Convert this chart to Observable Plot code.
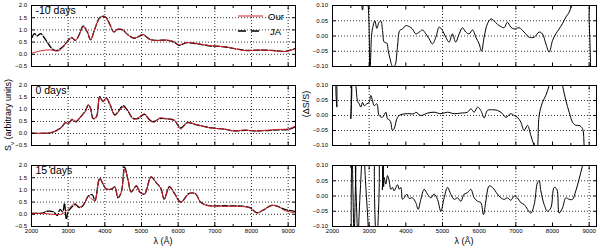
<!DOCTYPE html>
<html><head><meta charset="utf-8">
<script src="https://cdn.jsdelivr.net/npm/d3@7"></script>
<script src="https://cdn.jsdelivr.net/npm/@observablehq/plot@0.6"></script>
<style>
body{margin:0;background:#fff}
#c{position:relative;width:600px;height:249px;font-family:"Liberation Sans",sans-serif;overflow:hidden}
#c>svg,#c>div{position:absolute}
.lab{font-size:9px;color:#000;white-space:nowrap}
</style></head><body><div id="c"></div>
<script>
// ---------- data ----------
const xMajor = [2000,3000,4000,5000,6000,7000,8000,9000];
const xMinor = [2500,3500,4500,5500,6500,7500,8500];
const xGridLeft = [3000,4000,5000,6000,7000,8000,9000];
const xGridRight = [3000,5000,7000,9000];
const yTicksLeft = [-0.5,0,0.5,1,1.5,2];
const yGridLeft = [0,0.5,1,1.5];
const yTicksRight = [-0.1,-0.05,0,0.05,0.1];
const yGridRight = [-0.05,0,0.05];
const titles = ["-10 days","0 days","15 days"];
const seriesNames = ["Our","JA"];

// -10 days
const lamM10Our = [2000,2240,2510,2740,2870,2960,3100,3190,3280,3410,3520,3610,3730,3860,3970,4040,4140,4240,4360,4480,4630,4810,5040,5220,5400,5670,5890,6030,6210,6480,6840,7290,7830,8190,8550,8910,9200];
const fluxM10Our = [0.04,0.14,0.18,0.14,0.31,0.48,0.70,0.56,0.72,1.13,0.93,0.59,1.07,1.48,1.57,1.48,1.20,0.93,1.02,1.02,0.79,0.66,0.82,0.61,0.56,0.59,0.52,0.38,0.48,0.45,0.36,0.31,0.15,0.18,0.15,0.11,0.22];
const lamM10JA = [2020,2080,2150,2250,2330,2430,2520,2600,2700,2870,2960,3100,3190,3280,3410,3520,3610,3730,3860,3970,4040,4140,4240,4360,4480,4630,4810,5040,5220,5400,5670,5890,6030,6210,6480,6840,7290,7830,8190,8550,8910,9200];
const fluxM10JA = [0.70,0.85,0.75,0.85,0.72,0.50,0.30,0.18,0.16,0.33,0.50,0.68,0.57,0.74,1.15,0.92,0.60,1.05,1.50,1.55,1.50,1.22,0.92,1.03,1.00,0.80,0.66,0.80,0.62,0.57,0.58,0.50,0.37,0.47,0.44,0.35,0.30,0.16,0.17,0.16,0.12,0.24];
// 0 days
const lam0Our = [2000,2510,2690,2830,2920,3010,3100,3220,3320,3460,3550,3610,3680,3770,3860,3950,4040,4140,4270,4360,4500,4630,4770,4900,5080,5220,5350,5490,5670,5890,6070,6250,6480,6840,7290,7520,7830,8100,8370,8730,9000,9200];
const flux0Our = [0.01,0.03,0.12,0.26,0.47,0.40,0.61,0.47,0.68,0.89,1.21,1.03,0.61,0.68,1.51,1.31,1.49,1.24,0.75,0.89,1.10,0.96,0.61,0.65,0.82,0.54,0.47,0.65,0.61,0.57,0.19,0.47,0.38,0.24,0.18,0.10,0.15,0.10,0.13,0.17,0.19,0.31];
const lam0JA = [2000,2510,2690,2830,2920,3010,3100,3220,3320,3460,3550,3610,3680,3770,3860,3950,4040,4140,4270,4360,4500,4630,4770,4900,5080,5220,5350,5490,5670,5890,6070,6250,6480,6840,7290,7520,7830,8100,8370,8730,9000,9200];
const flux0JA = [0.01,0.03,0.13,0.28,0.44,0.43,0.57,0.50,0.66,0.92,1.18,1.05,0.63,0.70,1.54,1.33,1.47,1.20,0.78,0.90,1.16,0.93,0.63,0.62,0.80,0.57,0.50,0.62,0.62,0.55,0.23,0.45,0.37,0.25,0.17,0.11,0.13,0.11,0.12,0.15,0.17,0.28];
// 15 days
const lam15Our = [2000,2330,2650,2830,2960,3100,3190,3320,3460,3550,3640,3730,3860,3950,4030,4180,4270,4360,4450,4540,4630,4720,4860,4950,5080,5260,5400,5530,5620,5760,5890,6070,6300,6480,6610,6790,7290,7740,7960,8140,8320,8550,8730,8910,9200];
const flux15Our = [0.04,0.04,-0.01,0.01,0.15,0.36,0.45,0.29,0.49,0.73,0.63,0.56,1.45,1.25,1.04,1.04,1.11,0.70,0.90,1.86,1.45,0.90,1.18,0.90,0.84,1.52,1.32,1.04,0.63,1.11,0.90,0.49,0.84,0.84,0.49,0.36,0.33,0.32,0.26,0.05,0.18,0.36,0.32,0.15,0.06];
const lam15JA = [2000,2300,2400,2600,2700,2780,2850,2900,2950,3000,3100,3200,3300,3400,3460,3550,3660,3730,3860,3950,4030,4180,4270,4360,4450,4540,4630,4720,4860,4950,5080,5260,5400,5530,5620,5760,5890,6070,6300,6480,6610,6790,7290,7740,7960,8140,8320,8550,8730,8910,9200];
const flux15JA = [0.04,0.05,0.12,0.10,-0.05,0.20,0.10,0.45,-0.20,0.10,0.30,0.40,0.28,0.35,0.50,0.75,0.80,0.55,1.48,1.24,1.05,1.03,1.12,0.68,0.92,1.93,1.42,0.92,1.16,0.92,0.82,1.53,1.30,1.06,0.62,1.13,0.88,0.50,0.86,0.83,0.50,0.37,0.35,0.33,0.27,0.07,0.17,0.37,0.31,0.20,0.12];

// residuals
const lamResM10 = [2760,2820,2870,2950,3020,3064,3090,3155,3210,3270,3320,3365,3410,3480,3520,3570,3640,3700,3770,3835,3910,4000,4090,4180,4270,4360,4450,4545,4635,4725,4820,4910,5000,5090,5180,5270,5360,5455,5545,5635,5725,5820,5910,6000,6065,6135,6225,6320,6410,6500,6590,6680,6770,6865,6955,7090,7225,7365,7500,7635,7725,7820,7910,8000,8090,8180,8270,8365,8455,8520,8590,8950,9000,9050];
const resM10 = [0.15,0.085,0.14,0.12,-0.12,0.0,0.023,0.05,0.025,0.045,0.049,0.018,-0.02,-0.023,-0.048,-0.075,-0.10,-0.097,-0.037,0.018,0.023,0.034,0.031,0.023,0.007,0.012,0.02,0.007,-0.009,-0.026,-0.004,0.029,0.018,-0.004,-0.02,0.007,-0.02,0.007,0.027,0.013,0.007,0.02,-0.004,-0.026,-0.05,-0.004,0.04,0.056,0.049,0.038,0.031,0.027,0.045,0.029,0.023,0.027,0.013,-0.004,-0.004,0.013,0.007,-0.026,-0.053,-0.015,0.007,0.023,0.04,0.062,0.078,0.10,0.13,0.15,0.05,-0.15];
const lamRes0 = [2000,2100,2120,2140,2455,2500,2545,2560,2600,2636,2680,2727,2773,2818,2864,2936,3000,3045,3090,3136,3210,3273,3364,3455,3500,3573,3636,3682,3773,3864,4045,4227,4273,4409,4590,4773,4955,5136,5318,5500,5682,5773,5864,5955,6045,6136,6227,6364,6500,6636,6727,6864,6955,7045,7136,7227,7318,7409,7500,7573,7636,7727,7818,7909,8045,8180,8273,8364,8455,8545,8636,8727,8818,8864,8909];
const res0 = [0.15,0.12,0.028,0.13,0.15,-0.011,0.15,0.15,0.12,0.10,0.05,0.039,0.028,0.044,0.033,0.039,0.044,0.067,0.05,0.033,0.039,0.0,-0.006,0.011,-0.011,-0.017,-0.05,-0.044,-0.006,0.003,0.006,0.006,0.011,0.0,0.008,0.011,0.006,0.011,0.006,0.008,0.011,0.022,0.011,0.028,0.017,-0.008,0.017,0.019,0.017,0.006,-0.006,0.006,0.0,-0.006,-0.022,-0.05,-0.033,-0.067,-0.10,-0.12,0.0,0.044,0.067,0.10,0.15,0.15,0.10,0.05,0.011,-0.022,-0.033,-0.033,-0.044,-0.10,-0.15];
const lamRes15 = [2530,2545,2560,2580,2610,2630,2660,2675,2760,2775,2930,2945,3170,3195,3225,3340,3360,3375,3395,3410,3455,3500,3545,3590,3636,3682,3773,3818,3864,3909,3955,4027,4090,4182,4273,4336,4409,4500,4590,4682,4773,4864,4955,5045,5136,5227,5318,5409,5500,5590,5682,5773,5864,5955,6045,6118,6182,6273,6364,6500,6590,6682,6773,6864,6955,7045,7136,7227,7409,7500,7591,7636,7682,7773,7864,7955,8045,8118,8182,8273,8364,8455,8545,8636,8727,8818,8909];
const res15 = [0.2,-0.2,-0.2,0.2,0.2,-0.2,-0.2,0.2,0.2,-0.2,-0.2,0.2,0.2,-0.2,0.2,0.2,0.02,0.15,0.03,0.061,0.039,0.067,0.05,0.022,0.028,0.017,0.037,0.022,0.028,-0.011,-0.006,0.006,-0.008,-0.006,-0.022,-0.044,-0.011,0.022,0.006,-0.006,0.006,-0.011,-0.05,-0.006,0.028,0.006,-0.011,-0.006,-0.017,0.006,0.011,0.022,-0.006,-0.017,-0.022,-0.061,-0.017,0.033,0.028,0.006,-0.006,-0.011,-0.006,-0.014,0.0,-0.006,-0.022,-0.028,-0.056,-0.028,0.044,0.05,0.017,-0.028,-0.05,-0.039,0.028,0.022,-0.056,-0.039,-0.006,-0.011,-0.011,0.017,0.056,0.10,0.15];

// ---------- drawing ----------
const RED = "#d0202e";
const rows = (l, v) => l.map((x, i) => ({x, y: v[i]}));
const blank = () => "";
const gridStyle = {stroke: "#000", strokeOpacity: 1, strokeDasharray: "1,2", strokeWidth: 0.8};
const c = document.getElementById("c");

function panel(o) {
  const marks = [
    Plot.gridX(o.gridX, gridStyle),
    Plot.gridY(o.gridY, gridStyle),
    ...o.series.map(s => Plot.line(rows(s.l, s.v), {x: "x", y: "y", stroke: s.color, strokeWidth: s.w, strokeDasharray: s.dash, curve: "catmull-rom", clip: true})),
    Plot.frame({stroke: "#000", strokeWidth: 1}),
    Plot.axisX(xMajor, {anchor: "bottom", tickSize: -3.5, tickPadding: 6, tickFormat: o.showX ? d3.format("d") : blank, label: null}),
    Plot.axisX(xMinor, {anchor: "bottom", tickSize: -2, tickFormat: blank, label: null}),
    Plot.axisX(xMajor, {anchor: "top", tickSize: -3.5, tickFormat: blank, label: null}),
    Plot.axisX(xMinor, {anchor: "top", tickSize: -2, tickFormat: blank, label: null}),
    Plot.axisY(o.yTicks, {anchor: "left", tickSize: -3.5, tickPadding: 8, tickFormat: o.yFmt, label: null}),
    Plot.axisY(o.yTicks, {anchor: "right", tickSize: -3.5, tickFormat: blank, label: null})
  ];
  if (o.title) marks.push(Plot.text([o.title], {frameAnchor: "top-left", dx: 4, dy: 1, text: d => d, fontSize: 10.5, lineAnchor: "top", textAnchor: "start", fill: "#000"}));
  const svg = Plot.plot({
    width: 300, height: o.height,
    marginLeft: o.ml, marginRight: o.mr, marginTop: 5, marginBottom: o.mb,
    x: {domain: [2000, 9200]},
    y: {domain: o.yDomain},
    style: {fontSize: "6px", fontFamily: "Liberation Sans, sans-serif", color: "#000", background: "transparent", overflow: "visible"},
    marks
  });
  svg.style.left = o.left + "px";
  svg.style.top = o.top + "px";
  c.appendChild(svg);
}

const rowsGeo = [{top: 0, height: 80, mb: 14}, {top: 80, height: 80, mb: 15}, {top: 160, height: 89, mb: 23}];
const leftSeries = [
  [[lamM10JA, fluxM10JA], [lamM10Our, fluxM10Our]],
  [[lam0JA, flux0JA], [lam0Our, flux0Our]],
  [[lam15JA, flux15JA], [lam15Our, flux15Our]]
];
const resSeries = [[lamResM10, resM10], [lamRes0, res0], [lamRes15, res15]];

rowsGeo.forEach((g, i) => {
  panel({left: 0, top: g.top, height: g.height, mb: g.mb, ml: 31, mr: 5,
    yDomain: [-0.5, 2], yTicks: yTicksLeft, yFmt: d3.format(".1f"), gridX: xGridLeft, gridY: yGridLeft,
    showX: i === 2, title: titles[i],
    series: [
      {l: leftSeries[i][0][0], v: leftSeries[i][0][1], color: "#000", w: 1.3, dash: "6,2"},
      {l: leftSeries[i][1][0], v: leftSeries[i][1][1], color: RED, w: 1}
    ]});
  panel({left: 300, top: g.top, height: g.height, mb: g.mb, ml: 32, mr: 4,
    yDomain: [-0.1, 0.1], yTicks: yTicksRight, yFmt: d3.format(".2f"), gridX: xGridRight, gridY: yGridRight,
    showX: i === 2,
    series: [{l: resSeries[i][0], v: resSeries[i][1], color: "#000", w: 1}]});
});

// legend (top-left panel)
const ns = "http://www.w3.org/2000/svg";
const leg = d3.create("svg").attr("width", 70).attr("height", 32).style("left", "232px").style("top", "3px");
leg.append("line").attr("x1", 6).attr("x2", 31).attr("y1", 13).attr("y2", 13).attr("stroke", RED).attr("stroke-width", 1);
leg.append("line").attr("x1", 6).attr("x2", 31).attr("y1", 28).attr("y2", 28).attr("stroke", "#000").attr("stroke-width", 1.6).attr("stroke-dasharray", "8,5");
leg.append("text").attr("x", 36).attr("y", 16.5).attr("font-size", 9.5).attr("font-family", "Liberation Sans, sans-serif").text(seriesNames[0]);
leg.append("text").attr("x", 38).attr("y", 31.5).attr("font-size", 9.5).attr("font-family", "Liberation Sans, sans-serif").text(seriesNames[1]);
c.appendChild(leg.node());

// axis labels
function label(html, x, y, rot) {
  const d = document.createElement("div");
  d.className = "lab";
  d.innerHTML = html;
  d.style.left = x + "px"; d.style.top = y + "px";
  d.style.transform = "translate(-50%,-50%)" + (rot ? " rotate(-90deg)" : "");
  c.appendChild(d);
}
label("S<sub style='font-size:6px'>ν</sub> (arbitrary units)", 9, 115, true);
label("(ΔS/S)", 306, 104, true);
label("λ (Å)", 163, 241, false);
label("λ (Å)", 464, 241, false);
</script></body></html>
